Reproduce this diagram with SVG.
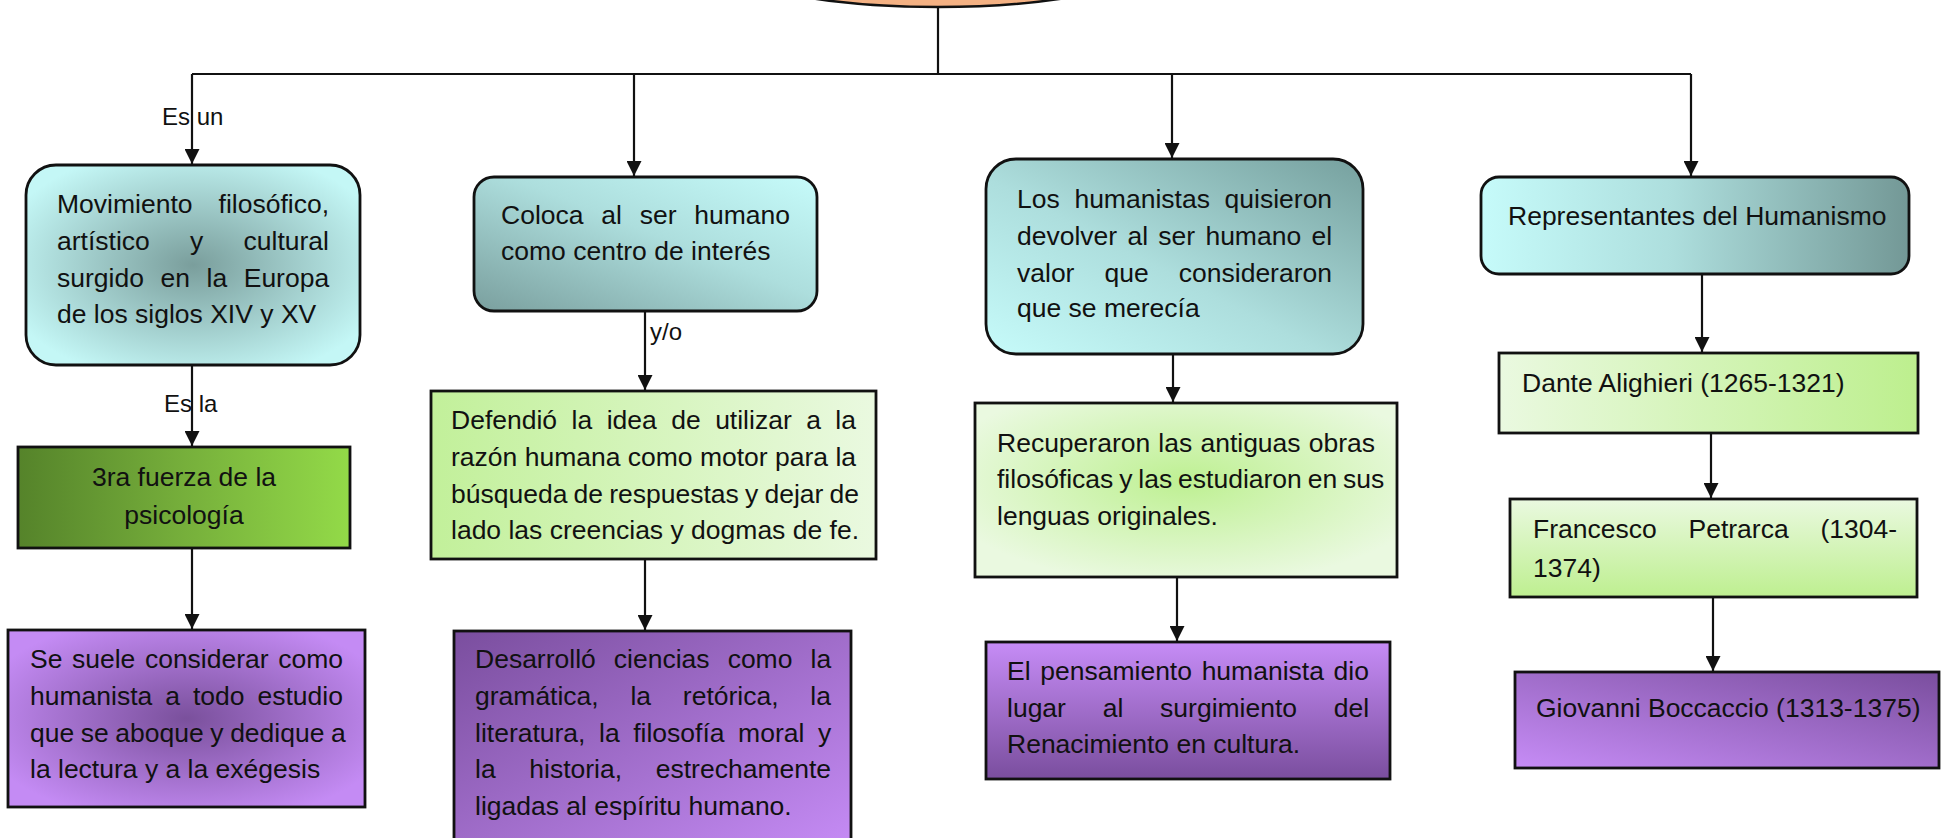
<svg xmlns="http://www.w3.org/2000/svg" width="1944" height="838" viewBox="0 0 1944 838">
<style>
  text { font-family: "Liberation Sans", Arial, sans-serif; font-size: 26.5px; fill: #111; }
  .lbl { font-size: 24px; }
  .box { stroke: #111; stroke-width: 2.8; }
  .conn { stroke: #111; stroke-width: 2.2; fill: none; }
  .arr { marker-end: url(#ah); }
</style>
<defs>
  <marker id="ah" markerUnits="userSpaceOnUse" markerWidth="15" markerHeight="15" refX="15" refY="7.5" orient="auto">
    <path d="M0,0 L15,7.5 L0,15 z" fill="#111"/>
  </marker>
  <radialGradient id="gTealRad" cx="0.5" cy="0.5" r="0.6">
    <stop offset="0" stop-color="#7A9E9C"/>
    <stop offset="1" stop-color="#C4F7F6"/>
  </radialGradient>
  <linearGradient id="gTealBLdark" x1="0" y1="1" x2="1" y2="0">
    <stop offset="0" stop-color="#7A9F9E"/>
    <stop offset="0.55" stop-color="#ADDEDD"/>
    <stop offset="1" stop-color="#C6FBFA"/>
  </linearGradient>
  <linearGradient id="gTealTRdark" x1="0" y1="1" x2="1" y2="0">
    <stop offset="0" stop-color="#C6FBFA"/>
    <stop offset="0.45" stop-color="#ADDEDD"/>
    <stop offset="1" stop-color="#76A09E"/>
  </linearGradient>
  <linearGradient id="gTealLR" x1="0" y1="0" x2="1" y2="0">
    <stop offset="0" stop-color="#C6FBFA"/>
    <stop offset="0.45" stop-color="#ADDEDD"/>
    <stop offset="1" stop-color="#739896"/>
  </linearGradient>
  <linearGradient id="gGreenDark" x1="0" y1="0" x2="1" y2="0">
    <stop offset="0" stop-color="#55832A"/>
    <stop offset="0.5" stop-color="#76AF3B"/>
    <stop offset="1" stop-color="#93DA48"/>
  </linearGradient>
  <linearGradient id="gGreenLR" x1="0" y1="0" x2="1" y2="0">
    <stop offset="0" stop-color="#C2F09A"/>
    <stop offset="1" stop-color="#EAF9E0"/>
  </linearGradient>
  <linearGradient id="gGreenRL" x1="0" y1="0" x2="1" y2="0">
    <stop offset="0" stop-color="#EAF9E0"/>
    <stop offset="1" stop-color="#BDEF8E"/>
  </linearGradient>
  <linearGradient id="gGreenTB" x1="0" y1="0" x2="0" y2="1">
    <stop offset="0" stop-color="#EAF9E0"/>
    <stop offset="1" stop-color="#BEEF90"/>
  </linearGradient>
  <radialGradient id="gGreenRad" cx="0.5" cy="0.45" r="0.6">
    <stop offset="0" stop-color="#BEF092"/>
    <stop offset="1" stop-color="#EAF9E0"/>
  </radialGradient>
  <radialGradient id="gPurpRad" cx="0.5" cy="0.5" r="0.6">
    <stop offset="0" stop-color="#7A509C"/>
    <stop offset="1" stop-color="#C48BF4"/>
  </radialGradient>
  <linearGradient id="gPurpTL" x1="0" y1="0" x2="1" y2="1">
    <stop offset="0" stop-color="#7A4E9E"/>
    <stop offset="1" stop-color="#C68CF6"/>
  </linearGradient>
  <linearGradient id="gPurpTB" x1="0" y1="0" x2="0" y2="1">
    <stop offset="0" stop-color="#C68CF6"/>
    <stop offset="1" stop-color="#7A4E9E"/>
  </linearGradient>
  <linearGradient id="gPurpBL" x1="0" y1="1" x2="1" y2="0">
    <stop offset="0" stop-color="#C68CF6"/>
    <stop offset="1" stop-color="#7A4E9E"/>
  </linearGradient>
</defs>
<rect width="1944" height="838" fill="#ffffff"/>

<g id="connectors">
  <path class="conn" d="M938,7 V74"/>
  <path class="conn" d="M192,74 H1691"/>
  <path class="conn arr" d="M192,74 V164"/>
  <path class="conn arr" d="M634,74 V176"/>
  <path class="conn arr" d="M1172,74 V158"/>
  <path class="conn arr" d="M1691,74 V176"/>
  <path class="conn arr" d="M192,365 V446"/>
  <path class="conn arr" d="M192,548 V629"/>
  <path class="conn arr" d="M645,311 V390"/>
  <path class="conn arr" d="M645,557 V630"/>
  <path class="conn arr" d="M1173,354 V402"/>
  <path class="conn arr" d="M1177,574 V641"/>
  <path class="conn arr" d="M1702,274 V352"/>
  <path class="conn arr" d="M1711,433 V498"/>
  <path class="conn arr" d="M1713,597 V671"/>
  <text class="lbl" x="162" y="125">Es un</text>
  <text class="lbl" x="164" y="412">Es la</text>
  <text class="lbl" x="650" y="340">y/o</text>
</g>

<g id="title">
  <ellipse cx="938" cy="-50" rx="235" ry="57" fill="#F4B183" stroke="#111" stroke-width="2.5"/>
</g>

<g id="n1">
  <rect class="box" x="26" y="165" width="334" height="200" rx="30" fill="url(#gTealRad)"/>
  <text x="57" y="213" word-spacing="18.7">Movimiento filosófico,</text>
  <text x="57" y="250" word-spacing="32.9">artístico y cultural</text>
  <text x="57" y="287" word-spacing="9.2">surgido en la Europa</text>
  <text x="57" y="323">de los siglos XIV y XV</text>
</g>

<g id="n2">
  <rect class="box" x="474" y="177" width="343" height="134" rx="20" fill="url(#gTealBLdark)"/>
  <text x="501" y="224" word-spacing="10.4">Coloca al ser humano</text>
  <text x="501" y="260">como centro de interés</text>
</g>

<g id="n3">
  <rect class="box" x="986" y="159" width="377" height="195" rx="30" fill="url(#gTealTRdark)"/>
  <text x="1017" y="208" word-spacing="7.3">Los humanistas quisieron</text>
  <text x="1017" y="245" word-spacing="2.9">devolver al ser humano el</text>
  <text x="1017" y="282" word-spacing="22.7">valor que consideraron</text>
  <text x="1017" y="317">que se merecía</text>
</g>

<g id="n4">
  <rect class="box" x="1481" y="177" width="428" height="97" rx="18" fill="url(#gTealLR)"/>
  <text x="1508" y="225">Representantes del Humanismo</text>
</g>

<g id="n5">
  <rect class="box" x="18" y="447" width="332" height="101" fill="url(#gGreenDark)"/>
  <text x="184" y="486" text-anchor="middle">3ra fuerza de la</text>
  <text x="184" y="524" text-anchor="middle">psicología</text>
</g>

<g id="n6">
  <rect class="box" x="431" y="391" width="445" height="168" fill="url(#gGreenLR)"/>
  <text x="451" y="429" word-spacing="7.1">Defendió la idea de utilizar a la</text>
  <text x="451" y="466">razón humana como motor para la</text>
  <text x="451" y="503" word-spacing="-1.2">búsqueda de respuestas y dejar de</text>
  <text x="451" y="539">lado las creencias y dogmas de fe.</text>
</g>

<g id="n7">
  <rect class="box" x="975" y="403" width="422" height="174" fill="url(#gGreenRad)"/>
  <text x="997" y="452" word-spacing="0.8">Recuperaron las antiguas obras</text>
  <text x="997" y="488" word-spacing="-1.5">filosóficas y las estudiaron en sus</text>
  <text x="997" y="525">lenguas originales.</text>
</g>

<g id="n8">
  <rect class="box" x="1499" y="353" width="419" height="80" fill="url(#gGreenRL)"/>
  <text x="1522" y="392">Dante Alighieri (1265-1321)</text>
</g>

<g id="n9">
  <rect class="box" x="8" y="630" width="357" height="177" fill="url(#gPurpRad)"/>
  <text x="30" y="668" word-spacing="2.2">Se suele considerar como</text>
  <text x="30" y="705" word-spacing="5.6">humanista a todo estudio</text>
  <text x="30" y="742" word-spacing="-0.8">que se aboque y dedique a</text>
  <text x="30" y="778">la lectura y a la exégesis</text>
</g>

<g id="n10">
  <rect class="box" x="454" y="631" width="397" height="220" fill="url(#gPurpTL)"/>
  <text x="475" y="668" word-spacing="10.7">Desarrolló ciencias como la</text>
  <text x="475" y="705" word-spacing="24.4">gramática, la retórica, la</text>
  <text x="475" y="742" word-spacing="6.2">literatura, la filosofía moral y</text>
  <text x="475" y="778" word-spacing="26.3">la historia, estrechamente</text>
  <text x="475" y="815">ligadas al espíritu humano.</text>
</g>

<g id="n11">
  <rect class="box" x="986" y="642" width="404" height="137" fill="url(#gPurpTB)"/>
  <text x="1007" y="680" word-spacing="2.3">El pensamiento humanista dio</text>
  <text x="1007" y="717" word-spacing="29.4">lugar al surgimiento del</text>
  <text x="1007" y="753">Renacimiento en cultura.</text>
</g>

<g id="n12">
  <rect class="box" x="1510" y="499" width="407" height="98" fill="url(#gGreenTB)"/>
  <text x="1533" y="538" word-spacing="24.4">Francesco Petrarca (1304-</text>
  <text x="1533" y="577">1374)</text>
</g>

<g id="n13">
  <rect class="box" x="1515" y="672" width="424" height="96" fill="url(#gPurpBL)"/>
  <text x="1536" y="717">Giovanni Boccaccio (1313-1375)</text>
</g>
</svg>
